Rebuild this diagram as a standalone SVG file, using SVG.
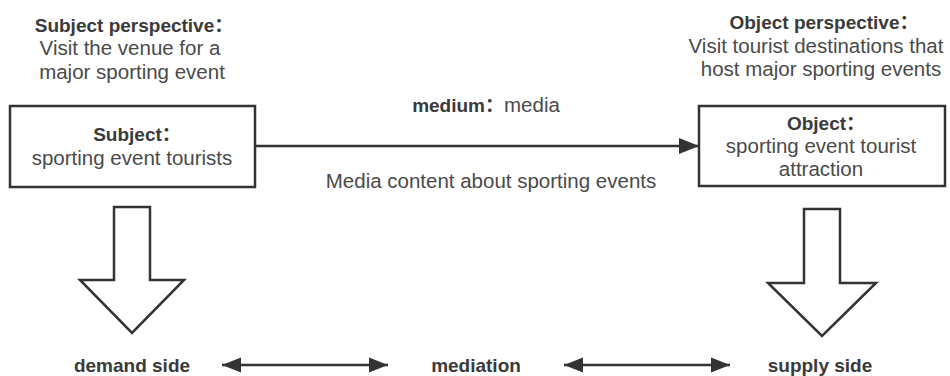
<svg xmlns="http://www.w3.org/2000/svg" width="950" height="376" viewBox="0 0 950 376">
<style>
text{font-family:"Liberation Sans","Noto Sans CJK SC",Arial,sans-serif;text-anchor:middle}
.b{font-weight:bold;font-size:19px;fill:#3a3a3a}
.r{font-size:20.5px;fill:#4a4a4a}
.box{fill:#fff;stroke:#333;stroke-width:2.5}
.blk{fill:#fff;stroke:#333;stroke-width:2.5;stroke-linejoin:miter}
.ln{stroke:#333;stroke-width:2.5;fill:none}
</style>
<defs>
<marker id="ah" viewBox="0 0 10 8" refX="10" refY="4" markerWidth="21" markerHeight="16" markerUnits="userSpaceOnUse" orient="auto-start-reverse">
<path d="M0,0 L10,4 L0,8 Z" fill="#333"/>
</marker>
<marker id="ah2" viewBox="0 0 10 8" refX="10" refY="4" markerWidth="19" markerHeight="16" markerUnits="userSpaceOnUse" orient="auto-start-reverse">
<path d="M0,0 L10,4 L0,8 Z" fill="#333"/>
</marker>
</defs>
<g id="subject-perspective">
<text class="b" x="134" y="32">Subject perspective：</text>
<text class="r" x="130" y="55">Visit the venue for a</text>
<text class="r" x="132" y="79">major sporting event</text>
</g>
<g id="object-perspective">
<text class="b" x="824" y="29">Object perspective：</text>
<text class="r" x="816" y="53">Visit tourist destinations that</text>
<text class="r" x="821" y="76">host major sporting events</text>
</g>
<g id="subject">
<rect class="box" x="10" y="106" width="245" height="81"/>
<text class="b" x="137" y="141">Subject：</text>
<text class="r" x="132" y="165">sporting event tourists</text>
</g>
<g id="object">
<rect class="box" x="699" y="106" width="246" height="80"/>
<text class="b" x="826" y="130">Object：</text>
<text class="r" x="821" y="153">sporting event tourist</text>
<text class="r" x="821" y="176">attraction</text>
</g>
<g id="medium-label">
<text x="486" y="112"><tspan class="b">medium：</tspan><tspan class="r">media</tspan></text>
<text class="r" x="491" y="188">Media content about sporting events</text>
</g>
<g id="demand-arrow">
<polygon class="blk" points="114,207 150,207 150,280 184,280 132,333 80,280 114,280"/>
</g>
<g id="supply-arrow">
<polygon class="blk" points="804,209 840,209 840,283 876,283 822,336 768,283 804,283"/>
</g>
<g id="demand-side"><text class="b" x="132" y="372">demand side</text></g>
<g id="mediation"><text class="b" x="476" y="372">mediation</text></g>
<g id="supply-side"><text class="b" x="820" y="372">supply side</text></g>
<g id="connectors">
<line class="ln" x1="255" y1="146" x2="699" y2="146" marker-end="url(#ah)"/>
<line class="ln" x1="222" y1="365" x2="388" y2="365" marker-start="url(#ah2)" marker-end="url(#ah2)"/>
<line class="ln" x1="564" y1="365" x2="730" y2="365" marker-start="url(#ah2)" marker-end="url(#ah2)"/>
</g>
</svg>
